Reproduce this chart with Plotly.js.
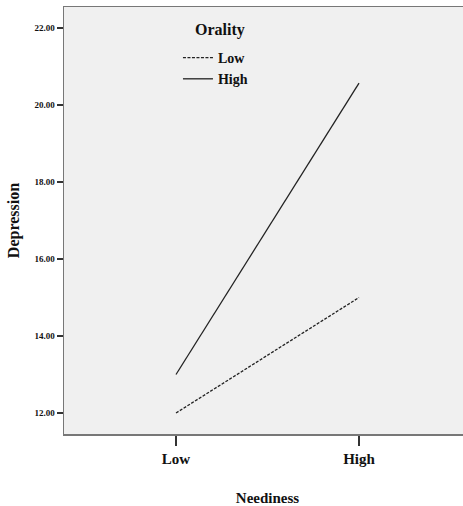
<!DOCTYPE html>
<html>
<head>
<meta charset="utf-8">
<script src="https://cdn.plot.ly/plotly-3.0.1.min.js"></script>
<style>
html,body{margin:0;padding:0;overflow:hidden;background:#fff;}
#chart{width:475px;height:506px;}
</style>
</head>
<body>
<div id="chart"></div>
<script>
var neediness = ["Low", "High"];
var oralityLow = [12.0, 15.0];
var oralityHigh = [13.0, 20.57];
var seriesNames = ["Low", "High"];
var legendTitle = "Orality";

var FONT = "Liberation Serif, Times New Roman, serif";

var traces = [
  {
    x: [0, 1], y: oralityLow, name: seriesNames[0], mode: "lines",
    line: {color: "#222", width: 1.3, dash: "3px,1.5px"}
  },
  {
    x: [0, 1], y: oralityHigh, name: seriesNames[1], mode: "lines",
    line: {color: "#222", width: 1.3}
  }
];

var layout = {
  width: 475, height: 506,
  margin: {l: 64, r: 4, t: 7, b: 72},
  paper_bgcolor: "#ffffff",
  plot_bgcolor: "#f0f0f0",
  font: {family: FONT, color: "#111"},
  showlegend: true,
  legend: {
    x: 0.28, xanchor: "left", y: 0.918, yanchor: "top",
    bgcolor: "rgba(0,0,0,0)",
    font: {family: FONT, size: 14, weight: "bold", color: "#111"},
    itemwidth: 30,
    tracegroupgap: 0
  },
  annotations: [{
    text: legendTitle, xref: "paper", yref: "paper",
    x: 0.3845, y: 0.946, xanchor: "center", yanchor: "middle",
    showarrow: false,
    font: {family: FONT, size: 16, weight: "bold", color: "#111"}
  }],
  xaxis: {
    range: [-0.612, 1.612],
    tickmode: "array", tickvals: [0, 1], ticktext: neediness,
    ticks: "outside", ticklen: 10, tickwidth: 1.2, tickcolor: "#333",
    showgrid: false, zeroline: false,
    showline: true, linecolor: "#777", linewidth: 1.5, mirror: true,
    tickfont: {family: FONT, size: 15, weight: "bold", color: "#111"},
    title: {text: "Neediness", standoff: 30, font: {family: FONT, size: 15, weight: "bold", color: "#111"}},
    fixedrange: true
  },
  yaxis: {
    range: [11.455, 22.545],
    tickmode: "linear", tick0: 12, dtick: 2, tickformat: ".2f",
    ticks: "outside", ticklen: 6, tickwidth: 1.2, tickcolor: "#333",
    showgrid: false, zeroline: false,
    showline: true, linecolor: "#777", linewidth: 1.5, mirror: false,
    tickfont: {family: FONT, size: 9, weight: "bold", color: "#111"},
    title: {text: "Depression", standoff: 11, font: {family: FONT, size: 16, weight: "bold", color: "#111"}},
    fixedrange: true
  }
};

Plotly.newPlot("chart", traces, layout, {displayModeBar: false, staticPlot: true});
</script>
</body>
</html>
